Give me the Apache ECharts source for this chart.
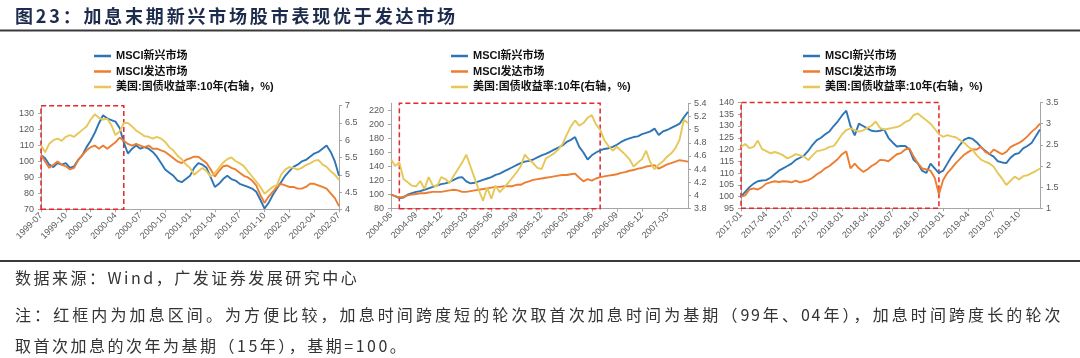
<!DOCTYPE html>
<html><head><meta charset="utf-8">
<script src="https://cdn.jsdelivr.net/npm/echarts@6/dist/echarts.min.js"></script>
<style>
html,body{margin:0;padding:0;background:#fff;}
#wrap{position:relative;width:1080px;height:358px;overflow:hidden;background:#fff;}
#chart{position:absolute;left:0;top:0;width:1080px;height:358px;}
.t{position:absolute;white-space:nowrap;font-family:"Noto Sans CJK SC",sans-serif;color:#333;}
</style></head><body>
<div id="wrap">
<div id="chart"></div>
<div class="t" style="left:15px;top:3px;font-size:18px;line-height:24px;font-weight:bold;color:#1d2b4c;letter-spacing:2.8px;">图23：加息末期新兴市场股市表现优于发达市场</div>
<div class="t" style="left:15px;top:267px;font-size:16px;line-height:21px;letter-spacing:2.5px;">数据来源：Wind，广发证券发展研究中心</div>
<div class="t" style="left:15px;top:304px;width:1047px;font-size:16px;line-height:21px;letter-spacing:1.5px;text-align:justify;text-align-last:justify;">注：红框内为加息区间。为方便比较，加息时间跨度短的轮次取首次加息时间为基期（99年、04年），加息时间跨度长的轮次</div>
<div class="t" style="left:15px;top:335px;font-size:16px;line-height:21px;letter-spacing:2.5px;">取首次加息的次年为基期（15年），基期=100。</div>
</div>
<script>
// ---------- data ----------
const seriesNames = ['MSCI新兴市场', 'MSCI发达市场', '美国:国债收益率:10年(右轴，%)'];

const p1Ticks = ['1999-07','1999-10','2000-01','2000-04','2000-07','2000-10','2001-01','2001-04','2001-07','2001-10','2002-01','2002-04','2002-07'];
const p2Ticks = ['2004-06','2004-09','2004-12','2005-03','2005-06','2005-09','2005-12','2006-03','2006-06','2006-09','2006-12','2007-03'];
const p3Ticks = ['2017-01','2017-04','2017-07','2017-10','2018-01','2018-04','2018-07','2018-10','2019-01','2019-04','2019-07','2019-10'];

const p1EM = [104,102,98,96.5,99,98,99,96,97,101,104,109,113,118,124,129,127,126,125,121,112,105,108,110,108,109,108,106,103,99,95,93,91,88,87,89,91,96,99,98,96,90,84,86,89,91,89,88,86,85,84,83,81,76,70.5,74,79,83,87,91,94,96.6,98,100,101,103,105,106,108,110,106,100,91];
const p1DM = [104,100,96,98,100,98,97,95,96,101,104,107,109,110,108,110,108,110,112,115,113,111,110,111,110,109,110,108,108,107,106,104,102,100,99,101,102,103,103,101,99,95,90.5,94,97,97.5,96,95,93,91,90,88,85,79,74,78,81,84,86,85,84,84,83,83,84,86,86,85,84,83,80,77,72];
const p1UST = [5.86,5.65,5.9,6.0,6.05,5.98,6.1,6.15,6.1,6.2,6.3,6.4,6.6,6.75,6.65,6.6,6.62,6.44,6.15,6.25,6.5,6.5,6.4,6.28,6.2,6.12,6.1,6.05,6.1,6.05,5.95,5.8,5.7,5.55,5.45,5.3,5.2,5.0,5.1,5.2,5.1,4.95,5.05,5.2,5.35,5.45,5.5,5.4,5.33,5.25,5.1,4.95,4.8,4.65,4.45,4.55,4.65,4.7,5.0,5.15,5.22,5.2,5.15,5.2,5.28,5.33,5.4,5.43,5.3,5.23,5.1,5.0,4.85];

const p2EM = [100,98,95,96,100,102,104,105,107,109,111,113,115,116,118,121,124,125,119,116,117,119,121,123,125,128,130,133,136,139,142,145,147,148,150,153,156,158,161,164,167,170,175,178,182,168,160,150,156,160,163,165,166,168,171,175,178,180,182,183,186,188,190,194,185,190,192,195,198,201,210,218];
const p2DM = [100,98,96,97,99,100,101,102,102,103,104,104,104,105,106,107,106,104,104,105,106,107,108,109,110,111,111,112,112,112,114,114,117,119,121,122,123,124,125,126,127,128,128,129,130,124,119,122,120,123,125,126,127,128,129,131,132,134,135,137,138,140,141,142,137,140,143,145,147,149,148,147];
const p2UST = [4.55,4.45,4.5,4.25,4.2,4.15,4.14,4.22,4.1,4.28,4.15,4.14,4.28,4.25,4.19,4.3,4.4,4.5,4.62,4.44,4.26,4.08,3.92,4.12,3.95,4.15,4.05,4.12,4.19,4.27,4.35,4.44,4.62,4.55,4.49,4.42,4.4,4.56,4.6,4.64,4.7,4.78,4.92,5.05,5.14,5.06,5.1,5.18,5.22,5.08,5.0,4.84,4.75,4.68,4.74,4.68,4.62,4.55,4.44,4.5,4.55,4.68,4.5,4.4,4.47,4.52,4.59,4.64,4.72,4.85,5.15,5.1];

const p3EM = [100,102,104,105.5,106.5,106.8,107,108,109.5,111,112,113,114,115.6,116.5,117.5,119.5,122,124,125,126.5,127.7,130,132,134.5,136.5,130,126,131,130,129,128,127.7,128,128.5,125,123,121.3,121.5,121.5,120,115.6,114,111,110,114,112,110,111,114,117,119.5,122,124.2,125,124.5,123,121,119.5,118,117,115,114.5,114.2,116.5,118,118.5,120.5,121.5,122.8,125.6,128.5];
const p3DM = [100,100.5,103,103.5,103,104,105.5,106,106.5,106.2,106.5,106.4,106,106.8,106,106.5,107,108,109.5,110.5,112,113,114.5,116,118,119.2,112,114,112,110.5,111.5,113,114,115.6,115.5,115,116.5,118,118.5,120,120.5,117,114.2,112,111.5,111,108,101,107,110,112,114.2,116,117.8,119,120,120,121.3,119,118,120,119,118,119,121,122,122.8,124,125.6,127.5,129,131];
const p3UST = [2.45,2.52,2.42,2.45,2.6,2.4,2.35,2.3,2.33,2.3,2.25,2.18,2.22,2.28,2.25,2.22,2.14,2.25,2.35,2.37,2.4,2.45,2.47,2.6,2.75,2.85,2.89,2.85,2.81,2.84,2.9,2.95,3.05,2.9,2.86,2.88,2.9,2.92,2.96,3.04,3.08,3.2,3.24,3.16,3.08,3.0,2.88,2.75,2.69,2.73,2.7,2.68,2.61,2.55,2.45,2.38,2.25,2.15,2.1,2.06,1.98,1.83,1.7,1.55,1.65,1.75,1.68,1.76,1.78,1.83,1.88,1.94];

// rate-hike windows (category index range)
const p1Hike = [0, 20];
const p2Hike = [2, 50];
const p3Hike = [0, 47];

// ---------- helpers ----------
function semiMonthly(y, m, n) {
  const out = [];
  for (let i = 0; i < n; i++) {
    const mm = m + Math.floor(i / 2);
    const yy = y + Math.floor((mm - 1) / 12);
    const mo = ((mm - 1) % 12) + 1;
    out.push(yy + '-' + String(mo).padStart(2, '0') + (i % 2 ? '-16' : '-01'));
  }
  return out;
}
const p1Cats = semiMonthly(1999, 7, p1EM.length);
const p2Cats = semiMonthly(2004, 6, p2EM.length);
const p3Cats = semiMonthly(2017, 1, p3EM.length);

const colors = ['#2E75B6', '#ED7D31', '#E6C757'];
const labelFont = { fontSize: 9, color: '#595959', fontFamily: 'Liberation Sans, Arial, sans-serif' };
const axisLineStyle = { lineStyle: { color: '#a6a6a6', width: 1 } };

const panels = [
  { cats: p1Cats, ticks: p1Ticks, data: [p1EM, p1DM, p1UST], hike: p1Hike,
    grid: { left: 41, top: 105.7, width: 298, height: 103.6 },
    yl: { min: 70, max: 135, interval: 10 }, yr: { min: 4, max: 7, interval: 0.5 }, legendLeft: 89 },
  { cats: p2Cats, ticks: p2Ticks, data: [p2EM, p2DM, p2UST], hike: p2Hike,
    grid: { left: 391, top: 103.3, width: 297, height: 105.4 },
    yl: { min: 80, max: 230, interval: 20 }, yr: { min: 3.8, max: 5.4, interval: 0.2 }, legendLeft: 446 },
  { cats: p3Cats, ticks: p3Ticks, data: [p3EM, p3DM, p3UST], hike: p3Hike,
    grid: { left: 741, top: 102.5, width: 299, height: 105.8 },
    yl: { min: 95, max: 140, interval: 5 }, yr: { min: 1, max: 3.5, interval: 0.5 }, legendLeft: 798 }
];

const option = {
  animation: false,
  backgroundColor: '#fff',
  grid: [], xAxis: [], yAxis: [], series: [], legend: [],
  graphic: [
    { type: 'rect', shape: { x: 0, y: 29.5, width: 1080, height: 2 }, style: { fill: '#3a3a3a' } },
    { type: 'rect', shape: { x: 0, y: 260, width: 1080, height: 2 }, style: { fill: '#3a3a3a' } }
  ]
};

panels.forEach((p, i) => {
  option.grid.push(Object.assign({ containLabel: false }, p.grid));
  option.xAxis.push({
    type: 'category', gridIndex: i, data: p.cats, boundaryGap: false,
    axisLine: axisLineStyle,
    axisTick: { show: true, interval: 5, length: 3, lineStyle: { color: '#a6a6a6' } },
    axisLabel: Object.assign({ interval: 5, rotate: 45, margin: 5,
      formatter: (v, idx) => p.ticks[idx / 6] || '' }, labelFont),
    splitLine: { show: false }
  });
  option.yAxis.push({
    type: 'value', gridIndex: i, position: 'left', min: p.yl.min, max: p.yl.max, interval: p.yl.interval,
    axisLine: { show: true, lineStyle: { color: '#a6a6a6' } },
    axisTick: { show: true, length: 3, lineStyle: { color: '#a6a6a6' } },
    axisLabel: Object.assign({ margin: 7, showMaxLabel: (p.yl.max - p.yl.min) % p.yl.interval === 0 }, labelFont),
    splitLine: { show: false }
  });
  option.yAxis.push({
    type: 'value', gridIndex: i, position: 'right', min: p.yr.min, max: p.yr.max, interval: p.yr.interval,
    axisLine: { show: true, lineStyle: { color: '#a6a6a6' } },
    axisTick: { show: true, length: 3, lineStyle: { color: '#a6a6a6' } },
    axisLabel: Object.assign({ margin: 6 }, labelFont),
    splitLine: { show: false }
  });
  p.data.forEach((d, k) => {
    const s = {
      name: seriesNames[k], type: 'line', xAxisIndex: i, yAxisIndex: i * 2 + (k === 2 ? 1 : 0),
      data: d, symbol: 'none', showSymbol: false, smooth: false,
      lineStyle: { color: colors[k], width: 1.9 }, itemStyle: { color: colors[k] },
      z: 3 + k
    };
    if (k === 0) {
      s.markArea = {
        silent: true,
        itemStyle: { color: 'rgba(0,0,0,0)', borderColor: '#e5262b', borderWidth: 1.5, borderType: [5, 3] },
        data: [[{ xAxis: p.cats[p.hike[0]] }, { xAxis: p.cats[p.hike[1]] }]]
      };
    }
    option.series.push(s);
  });
  option.legend.push({
    orient: 'vertical', left: p.legendLeft, top: 44, icon: 'rect', itemWidth: 17, itemHeight: 2.5, itemGap: 1.5,
    data: seriesNames, selectedMode: false,
    textStyle: { fontSize: 11, fontWeight: 'bold', color: '#111', lineHeight: 14,
      fontFamily: 'Liberation Sans, "Noto Sans CJK SC", sans-serif' }
  });
});

const chart = echarts.init(document.getElementById('chart'), null, { renderer: 'canvas' });
chart.setOption(option);
</script>
</body></html>
